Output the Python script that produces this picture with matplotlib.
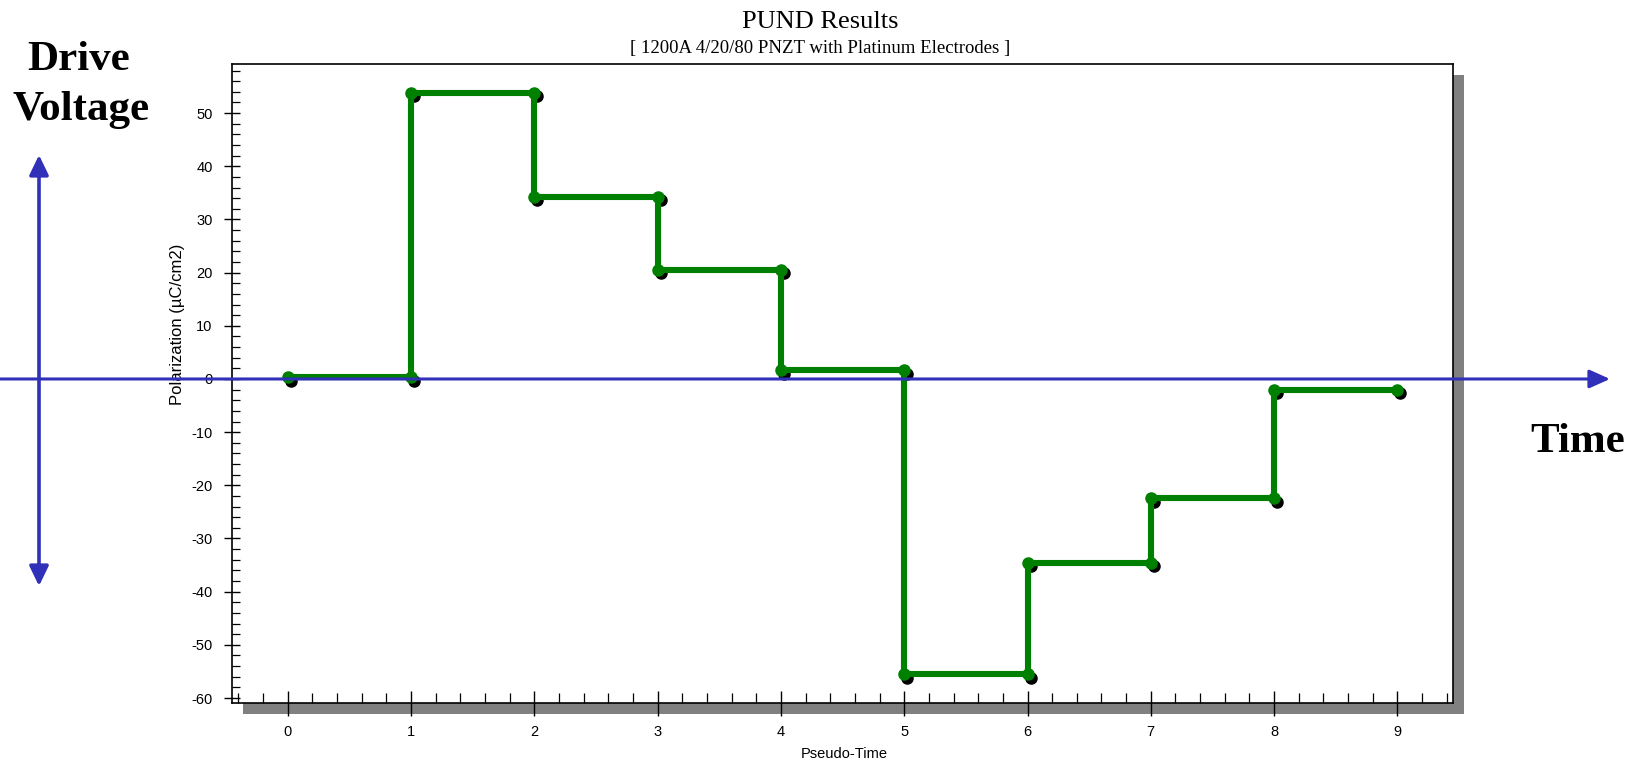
import numpy as np
import matplotlib
matplotlib.use("Agg")
import matplotlib.pyplot as plt
from matplotlib import font_manager
from matplotlib.patches import Rectangle, FancyArrowPatch
from matplotlib.ticker import MultipleLocator
from matplotlib.transforms import offset_copy

# ---------------------------------------------------------------
# Data: one polarization level per pseudo-time interval [t, t+1]
# ---------------------------------------------------------------
pseudo_time = [0, 1, 2, 3, 4, 5, 6, 7, 8, 9]
polarization = [0.3, 53.8, 34.3, 20.5, 1.6, -55.5, -34.6, -22.4, -2.0]

x_ticks = [0, 1, 2, 3, 4, 5, 6, 7, 8, 9]
y_ticks = [50, 40, 30, 20, 10, 0, -10, -20, -30, -40, -50, -60]

title = "PUND Results"
subtitle = "[ 1200A 4/20/80 PNZT with Platinum Electrodes ]"
x_label = "Pseudo-Time"
y_label = "Polarization (µC/cm2)"

# step vertices: each level is held from t to t+1
starts = np.array(pseudo_time[:-1])
ends = np.array(pseudo_time[1:])
xs = np.column_stack([starts, ends]).ravel()
ys = np.repeat(polarization, 2)

# fonts
names = {f.name for f in font_manager.fontManager.ttflist}
narrow = "Liberation Sans Narrow" if "Liberation Sans Narrow" in names else "Liberation Sans"
serif = "Liberation Serif"
plt.rcParams["axes.unicode_minus"] = False

W, H = 1640, 764
fig = plt.figure(figsize=(W / 100, H / 100), dpi=100)


def px(x, y):
    """pixel (from top-left) -> figure fraction"""
    return x / W, 1 - y / H


# axes box in pixels
L, T, R, B = 232, 64, 1453, 703
ax = fig.add_axes([L / W, 1 - B / H, (R - L) / W, (B - T) / H])

# grey drop shadow behind the frame
sx, sy = px(243, 714)
shadow = Rectangle((sx, sy), (1464 - 243) / W, (714 - 75) / H,
                   transform=fig.transFigure, facecolor="#808080",
                   edgecolor="none", zorder=-1)
fig.add_artist(shadow)

green = "#008000"
shadow_tr = offset_copy(ax.transData, fig=fig, x=3, y=-3.5, units="dots")
ax.plot(xs, ys, "o", color="black", markersize=8, transform=shadow_tr, zorder=2)
ax.plot(xs, ys, "-", color=green, lw=4.4, solid_capstyle="round", zorder=3)
ax.plot(xs, ys, "o", color=green, markersize=8, zorder=4)

ax.set_xlim(-0.452, 9.451)
ax.set_ylim(-60.94, 59.24)
ax.set_xticks(x_ticks)
ax.set_yticks(y_ticks)
ax.xaxis.set_minor_locator(MultipleLocator(0.2))
ax.yaxis.set_minor_locator(MultipleLocator(2))

for s in ax.spines.values():
    s.set_linewidth(1.2)
    s.set_color("black")

ax.tick_params(axis="x", which="major", direction="inout", length=18, width=1.0,
               pad=7, labelsize=10.5)
ax.tick_params(axis="y", which="major", direction="inout", length=12, width=1.0,
               pad=8, labelsize=10.5)
ax.tick_params(axis="x", which="minor", direction="in", length=7, width=0.9)
ax.tick_params(axis="y", which="minor", direction="in", length=5.8, width=0.9)
for lab in ax.get_xticklabels() + ax.get_yticklabels():
    lab.set_fontfamily(narrow)

ax.set_xlabel(x_label, fontsize=10.5, fontfamily=narrow)
ax.xaxis.set_label_coords((844 - L) / (R - L), (B - 747) / (B - T))
ax.set_ylabel(y_label, fontsize=12, fontfamily=narrow, va="center")
ax.yaxis.set_label_coords((178 - L) / (R - L), (B - 324) / (B - T))

# titles, centred on the figure
fig.text(0.5, px(0, 28)[1], title, ha="center", va="baseline",
         fontsize=19, fontfamily=serif)
fig.text(0.5, px(0, 53)[1], subtitle, ha="center", va="baseline",
         fontsize=13.5, fontfamily=serif)

# drive voltage / time annotations
blue = "#3030b8"
fig.text(*px(79, 70), "Drive", ha="center", va="baseline",
         fontsize=31, fontweight="bold", fontfamily=serif)
fig.text(*px(81, 120), "Voltage", ha="center", va="baseline",
         fontsize=31, fontweight="bold", fontfamily=serif)
fig.text(*px(1578, 452), "Time", ha="center", va="baseline",
         fontsize=31, fontweight="bold", fontfamily=serif)

v_arrow = FancyArrowPatch(px(39, 586), px(39, 155), transform=fig.transFigure,
                          arrowstyle="<|-|>,head_length=12,head_width=5.8",
                          mutation_scale=1, color=blue, lw=2.6,
                          shrinkA=0, shrinkB=0, zorder=5)
fig.add_artist(v_arrow)

y0 = ax.transData.transform((0, 0))[1] / H
h_arrow = FancyArrowPatch((0, y0), (1610 / W, y0), transform=fig.transFigure,
                          arrowstyle="-|>,head_length=12.5,head_width=5.6",
                          mutation_scale=1, color=blue, lw=2.2,
                          shrinkA=0, shrinkB=0, zorder=5)
fig.add_artist(h_arrow)

fig.savefig("out.png", dpi=100)
